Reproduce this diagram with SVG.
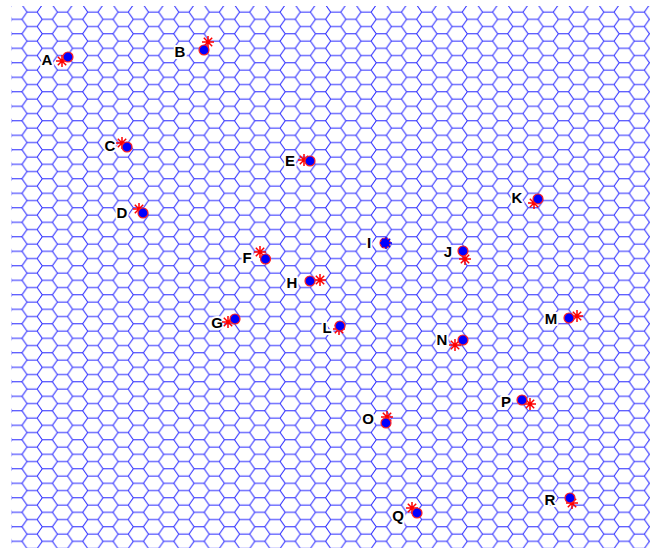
<svg xmlns="http://www.w3.org/2000/svg" xmlns:xlink="http://www.w3.org/1999/xlink" width="655" height="548" viewBox="0 0 655 548">
<style>
.lbl{font-family:"Liberation Sans",Arial,sans-serif;font-size:15px;font-weight:bold;fill:#000;text-anchor:middle;stroke:#fff;stroke-width:4;paint-order:stroke;stroke-linejoin:round}
.dot{fill:#0000ff;stroke:#ff2020;stroke-width:1.2}
.star{fill:none;stroke:#ff0000;stroke-width:1.5}
.bstar{fill:none;stroke:#0000ff;stroke-width:1.5}
</style>
<defs>
<pattern id="hex" patternUnits="userSpaceOnUse" x="19.47" y="15.675" width="30.36" height="14.5">
<path d="M-7.59,3.625H2.53M22.77,3.625H32.89M7.59,-3.625L2.53,3.625L7.59,10.875H17.71L22.77,3.625L17.71,-3.625M2.53,18.125L7.59,10.875M17.71,10.875L22.77,18.125" fill="none" stroke="#2020ff" stroke-width="1"/>
</pattern>
<path id="st" class="star" d="M-6,0H6M0,-6V6M-4.2,-4.2L4.2,4.2M-4.2,4.2L4.2,-4.2"/>
</defs>
<rect id="grid" x="11.5" y="6" width="638.5" height="542" fill="url(#hex)"/>
<g id="connectors"></g>
<g id="A"><text class="lbl" x="47" y="65">A</text><use xlink:href="#st" x="62" y="61"/><circle class="dot" cx="68" cy="57" r="5"/></g>
<g id="B"><text class="lbl" x="180" y="57">B</text><use xlink:href="#st" x="208" y="42"/><circle class="dot" cx="204" cy="50" r="5"/></g>
<g id="C"><text class="lbl" x="110" y="151">C</text><use xlink:href="#st" x="122" y="143"/><circle class="dot" cx="127" cy="147" r="5"/></g>
<g id="D"><text class="lbl" x="122" y="218">D</text><use xlink:href="#st" x="139" y="209"/><circle class="dot" cx="143" cy="213" r="5"/></g>
<g id="E"><text class="lbl" x="290" y="166">E</text><use xlink:href="#st" x="304" y="160"/><circle class="dot" cx="310" cy="161" r="5"/></g>
<g id="F"><text class="lbl" x="247" y="263">F</text><use xlink:href="#st" x="260" y="252"/><circle class="dot" cx="265.5" cy="259" r="5"/></g>
<g id="G"><text class="lbl" x="217" y="328">G</text><use xlink:href="#st" x="228" y="322"/><circle class="dot" cx="235" cy="319" r="5"/></g>
<g id="H"><text class="lbl" x="292" y="288">H</text><use xlink:href="#st" x="320" y="280"/><circle class="dot" cx="310" cy="281" r="5"/></g>
<g id="I"><text class="lbl" x="369" y="248">I</text><circle class="dot" cx="385" cy="243" r="5"/><path class="bstar" transform="translate(386,243)" d="M-6,0H6M0,-6V6M-4.2,-4.2L4.2,4.2M-4.2,4.2L4.2,-4.2"/></g>
<g id="J"><text class="lbl" x="448" y="257">J</text><use xlink:href="#st" x="465" y="259"/><circle class="dot" cx="463" cy="251" r="5"/></g>
<g id="K"><text class="lbl" x="517" y="203">K</text><use xlink:href="#st" x="534" y="203"/><circle class="dot" cx="538" cy="199" r="5"/></g>
<g id="L"><text class="lbl" x="327" y="333">L</text><use xlink:href="#st" x="339" y="329"/><circle class="dot" cx="340" cy="326" r="5"/></g>
<g id="M"><text class="lbl" x="551" y="324">M</text><use xlink:href="#st" x="577" y="316"/><circle class="dot" cx="569" cy="318" r="5"/></g>
<g id="N"><text class="lbl" x="442" y="345">N</text><use xlink:href="#st" x="455" y="345"/><circle class="dot" cx="463" cy="340" r="5"/></g>
<g id="O"><text class="lbl" x="368" y="424">O</text><use xlink:href="#st" x="387" y="417"/><circle class="dot" cx="386" cy="423" r="5"/></g>
<g id="P"><text class="lbl" x="506" y="407">P</text><use xlink:href="#st" x="530" y="404"/><circle class="dot" cx="522" cy="400" r="5"/></g>
<g id="Q"><text class="lbl" x="398" y="521">Q</text><use xlink:href="#st" x="412" y="508"/><circle class="dot" cx="417" cy="513" r="5"/></g>
<g id="R"><text class="lbl" x="550" y="505">R</text><use xlink:href="#st" x="572" y="503"/><circle class="dot" cx="570" cy="498" r="5"/></g>
</svg>
